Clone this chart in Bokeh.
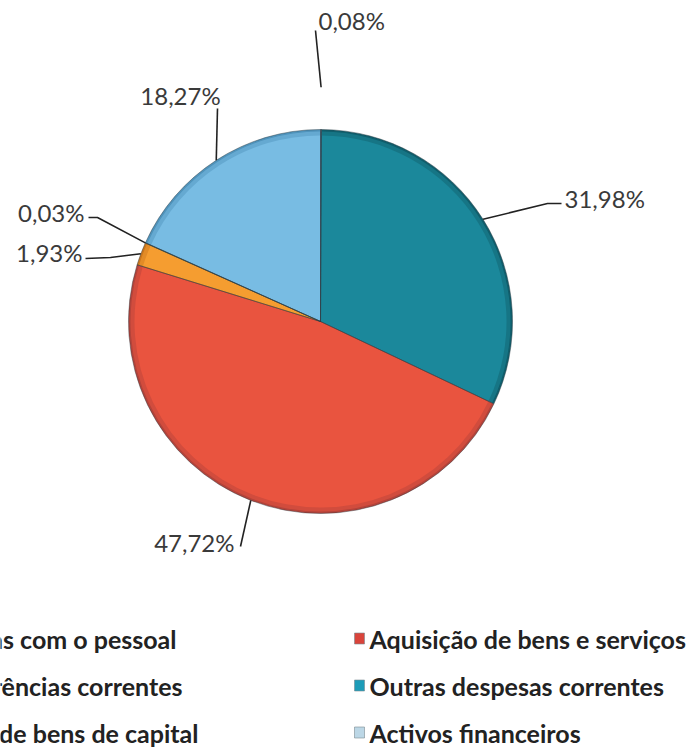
import numpy as np
from bokeh.plotting import figure
from bokeh.models import Range1d, ColumnDataSource
from bokeh.core.properties import value
from bokeh.embed import file_html
from bokeh.resources import INLINE

# ---- data (slices clockwise from 12 o'clock) ----
slice_names = ["Despesas com o pessoal", "Outras despesas correntes",
               "Aquisição de bens e serviços", "Aquisição de bens de capital",
               "Transferências correntes", "Activos financeiros"]
slice_values = [0.08, 31.98, 47.72, 1.93, 0.03, 18.27]
slice_labels = ["0,08%", "31,98%", "47,72%", "1,93%", "0,03%", "18,27%"]

legend_left = ["Despesas com o pessoal", "Transferências correntes",
               "Aquisição de bens de capital"]
legend_right = ["Aquisição de bens e serviços", "Outras despesas correntes",
                "Activos financeiros"]

# ---- styles ----
slice_colors = ["#4f81bd", "#1b889b", "#e9543f", "#f59d30", "#9bbb59", "#78bce3"]
rim_colors = ["#3b6391", "#105e6c", "#b3433a", "#c9761e", "#7a9645", "#4f93bb"]
legend_right_colors = ["#d9443b", "#1d9cb8", "#bcd7e6"]

W, H = 698, 749


def Y(py):
    return 749 - py


p = figure(width=W, height=H, x_range=Range1d(0, 698), y_range=Range1d(0, 749),
           output_backend="svg", toolbar_location=None, min_border=0)
p.axis.visible = False
p.grid.visible = False
p.outline_line_color = None
p.background_fill_color = "white"
p.border_fill_color = "white"

cx, cy, r = 320, Y(321), 192
vals = np.array(slice_values, dtype=float)
frac = vals / vals.sum()
cum = np.concatenate([[0.0], np.cumsum(frac)])
start = np.pi / 2 - 2 * np.pi * cum[1:]
end = np.pi / 2 - 2 * np.pi * cum[:-1]
mid = (start + end) / 2

src = ColumnDataSource(dict(start=start, end=end, color=slice_colors, rim=rim_colors))
p.wedge(x=cx, y=cy, radius=r, start_angle="start", end_angle="end",
        fill_color="rim", line_color=None, source=src)
p.annular_wedge(x=cx, y=cy, inner_radius=r - 9, outer_radius=r - 2,
                start_angle="start", end_angle="end",
                fill_color="color", fill_alpha=0.55, line_color=None, source=src)
p.wedge(x=cx, y=cy, radius=r - 6, start_angle="start", end_angle="end",
        fill_color="color", line_color=None, source=src)
p.wedge(x=cx, y=cy, radius=r, start_angle="start", end_angle="end",
        fill_color=None, line_color="#2d3a40", line_alpha=0.45, line_width=1, source=src)

# ---- data labels with leader lines ----
label_pos = [(318, 20, "left"), (564, 198, "left"), (234, 542, "right"),
             (82, 252, "right"), (84, 212, "right"), (180, 95, "center")]
leader_starts = [[(315, 30)], [(561, 203), (547, 203)], [(240, 546)],
                 [(85, 258), (110, 257)], [(88, 217), (97, 217)], [(217, 108)]]
edge_factor = [1.22, 1.0, 1.0, 1.0, 1.0, 1.0]

for i, lab in enumerate(slice_labels):
    lx, ly, al = label_pos[i]
    p.text(x=[lx], y=[Y(ly)], text=[lab], text_font=value("Lato"),
           text_font_size="24px", text_color="#3a3a3a",
           text_align=al, text_baseline="middle")
    ex = cx + r * edge_factor[i] * np.cos(mid[i])
    ey = cy + r * edge_factor[i] * np.sin(mid[i])
    xs = [pt[0] for pt in leader_starts[i]] + [ex]
    ys = [Y(pt[1]) for pt in leader_starts[i]] + [ey]
    p.line(x=xs, y=ys, line_color="#222222", line_width=1.6)

# ---- legend (left column is cropped off the left edge, as in the source) ----
rows_y = [638, 685, 732]
left_ends = [176, 182, 198]
right_x0 = 369
for i in range(3):
    p.text(x=[left_ends[i]], y=[Y(rows_y[i])], text=[legend_left[i]],
           text_font=value("Lato"), text_font_style="bold", text_font_size="25px",
           text_color="#222222", text_align="right", text_baseline="middle")
    p.rect(x=[right_x0 - 10], y=[Y(rows_y[i])], width=10, height=11,
           fill_color=legend_right_colors[i], line_color="#7a8a90", line_width=0.6)
    p.text(x=[right_x0], y=[Y(rows_y[i])], text=[legend_right[i]],
           text_font=value("Lato"), text_font_style="bold", text_font_size="25px",
           text_color="#222222", text_align="left", text_baseline="middle")

open("out.html", "w").write(file_html(p, INLINE))
